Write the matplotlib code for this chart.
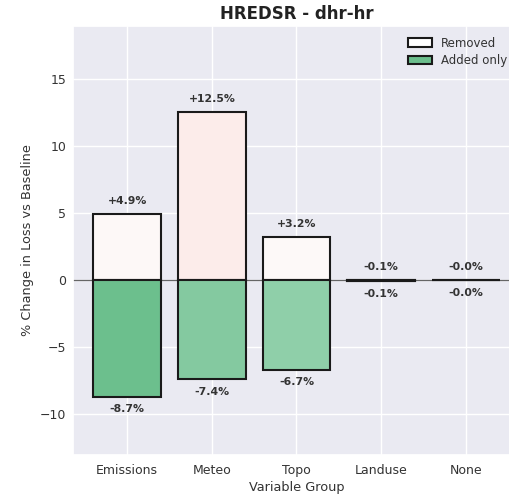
import matplotlib
matplotlib.use("Agg")
import matplotlib.pyplot as plt
import seaborn as sns
from matplotlib.patches import Patch

sns.set_theme(style="darkgrid")
plt.rcParams['font.family'] = ['DejaVu Sans']

categories = ["Emissions", "Meteo", "Topo", "Landuse", "None"]
removed = [4.9, 12.5, 3.2, -0.1, -0.02]
added = [-8.7, -7.4, -6.7, -0.1, -0.02]
removed_labels = ["+4.9%", "+12.5%", "+3.2%", "-0.1%", "-0.0%"]
added_labels = ["-8.7%", "-7.4%", "-6.7%", "-0.1%", "-0.0%"]
removed_colors = ["#fdf8f7", "#fcecea", "#fdf9f8", "#fdfbfb", "#fdfbfb"]
added_colors = ["#6cbf8d", "#84c9a0", "#8fcfa9", "#e0f2e7", "#e0f2e7"]

fig = plt.figure(figsize=(5.10, 4.94), dpi=100)
ax = fig.add_axes([73/510, 1-455/494, (520-73)/510, (455-26)/494])

x = list(range(len(categories)))
ax.bar(x, removed, width=0.8, color=removed_colors, edgecolor="#1a1a1a", linewidth=1.5, zorder=3)
ax.bar(x, added, width=0.8, color=added_colors, edgecolor="#1a1a1a", linewidth=1.5, zorder=3)
ax.axhline(0, color="#666666", linewidth=0.9, zorder=2)

for i in x:
    ax.text(i, max(removed[i], 0) + 0.6, removed_labels[i], ha="center", va="bottom",
            fontsize=7.8, fontweight="bold", color="#333333")
    ax.text(i, min(added[i], 0) - 0.55, added_labels[i], ha="center", va="top",
            fontsize=7.8, fontweight="bold", color="#333333")

ax.set_xticks(x)
ax.set_xticklabels(categories)
ax.set_xlim(-0.64, 4.64)
ax.set_ylim(-13.05, 18.95)
ax.set_yticks([-10, -5, 0, 5, 10, 15])
ax.tick_params(axis="x", labelsize=9, pad=6.5, length=0, colors="#333333")
ax.tick_params(axis="y", labelsize=9, pad=5, length=0, colors="#333333")
ax.set_xlabel("Variable Group", fontsize=9.3, labelpad=3, color="#333333")
ax.set_ylabel("% Change in Loss vs Baseline", fontsize=9.3, labelpad=4, color="#333333")
ax.set_title("HREDSR - dhr-hr", fontsize=12, fontweight="bold", pad=5, color="#222222")

handles = [Patch(facecolor="white", edgecolor="#1a1a1a", linewidth=1.5, label="Removed"),
           Patch(facecolor="#6cbf8d", edgecolor="#1a1a1a", linewidth=1.5, label="Added only")]
leg = ax.legend(handles=handles, loc="upper right", bbox_to_anchor=(0.996, 1.0), fontsize=8.5,
                frameon=False, labelspacing=0.4)
for t in leg.get_texts():
    t.set_color("#333333")

fig.savefig("out.png", dpi=100)
